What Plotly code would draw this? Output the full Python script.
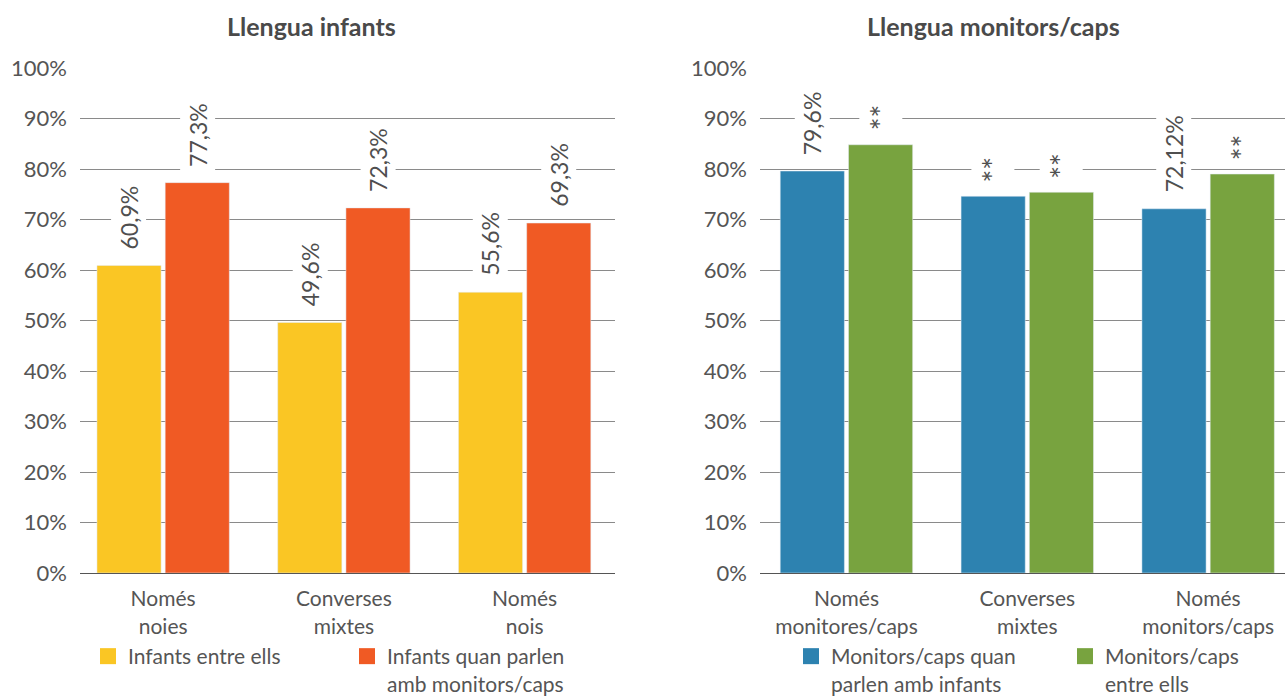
import plotly.graph_objects as go

# ---- data ----
cats_left = ["Només<br>noies", "Converses<br>mixtes", "Només<br>nois"]
infants_entre_ells = [60.9, 49.6, 55.6]
infants_amb_monitors = [77.3, 72.3, 69.3]
labels_entre_ells = ["60,9%", "49,6%", "55,6%"]
labels_amb_monitors = ["77,3%", "72,3%", "69,3%"]

cats_right = ["Només<br>monitores/caps", "Converses<br>mixtes", "Només<br>monitors/caps"]
monitors_amb_infants = [79.6, 74.6, 72.12]
monitors_entre_ells = [84.8, 75.4, 79.0]
labels_monitors_amb_infants = ["79,6%", "**", "72,12%"]
labels_monitors_entre_ells = ["**", "**", "**"]

yticks = [0, 10, 20, 30, 40, 50, 60, 70, 80, 90, 100]
yticklabels = [f"{v}%" for v in yticks]

series_names = ["Infants entre ells", "Infants quan parlen<br>amb monitors/caps",
                "Monitors/caps quan<br>parlen amb infants", "Monitors/caps<br>entre ells"]

# ---- style ----
YELLOW = "#FAC624"
RED = "#F05A24"
BLUE = "#2D82B0"
GREEN = "#78A33F"
TXT = "#555555"
FONT = "Lato"
BARGAP = 0.245
BARGROUPGAP = 0.06

fig = go.Figure()

def add_pair(xref, yref, cats, v1, v2, c1, c2, n1, n2, legend):
    fig.add_trace(go.Bar(x=cats, y=v1, marker_color=c1, name=n1, showlegend=False,
                         xaxis=xref, yaxis=yref, hoverinfo="skip"))
    fig.add_trace(go.Bar(x=cats, y=v2, marker_color=c2, name=n2, showlegend=False,
                         xaxis=xref, yaxis=yref, hoverinfo="skip"))
    # legend-only entries with large square markers
    for n, c in ((n1, c1), (n2, c2)):
        fig.add_trace(go.Scatter(x=[None], y=[None], mode="markers", name=n,
                                 marker=dict(symbol="square", size=20, color=c),
                                 xaxis=xref, yaxis=yref, legend=legend))

add_pair("x", "y", cats_left, infants_entre_ells, infants_amb_monitors, YELLOW, RED,
         series_names[0], series_names[1], "legend")
add_pair("x2", "y2", cats_right, monitors_amb_infants, monitors_entre_ells, BLUE, GREEN,
         series_names[2], series_names[3], "legend2")

# value labels (rotated, white background to cut gridlines)
off = (1 - BARGAP) / 4
def add_labels(xref, yref, values, labels, sign):
    for i, (v, t) in enumerate(zip(values, labels)):
        star = t == "**"
        fig.add_annotation(x=i + sign * off, y=v, xref=xref, yref=yref, text=t,
                           textangle=-90, showarrow=False, yanchor="bottom", xanchor="center",
                           yshift=10 if star else 12, bgcolor="white", borderpad=3,
                           font=dict(family=FONT, size=30 if star else 23, color="#4f4f4f"))

add_labels("x", "y", infants_entre_ells, labels_entre_ells, -1)
add_labels("x", "y", infants_amb_monitors, labels_amb_monitors, 1)
add_labels("x2", "y2", monitors_amb_infants, labels_monitors_amb_infants, -1)
add_labels("x2", "y2", monitors_entre_ells, labels_monitors_entre_ells, 1)

# titles
fig.add_annotation(x=311 / 1285, y=1 - 26 / 696, xref="paper", yref="paper",
                   text="<b>Llengua infants</b>", showarrow=False,
                   xanchor="center", yanchor="middle",
                   font=dict(family=FONT, size=25, color="#4a4a4a"))
fig.add_annotation(x=993 / 1285, y=1 - 26 / 696, xref="paper", yref="paper",
                   text="<b>Llengua monitors/caps</b>", showarrow=False,
                   xanchor="center", yanchor="middle",
                   font=dict(family=FONT, size=25, color="#4a4a4a"))

ydom = [123 / 696, 1 - 68 / 696]
yaxis_common = dict(range=[0, 100], tickmode="array", tickvals=yticks, ticktext=yticklabels,
                    showgrid=True, gridcolor="#8a8a8a", gridwidth=1, zeroline=False,
                    showline=False, ticks="", ticklabelstandoff=12,
                    tickfont=dict(family=FONT, size=22, color=TXT),
                    domain=ydom, fixedrange=True)
xaxis_common = dict(type="category", showgrid=False, showline=True, linecolor="#555555",
                    linewidth=1, ticks="", ticklabelstandoff=7,
                    tickfont=dict(family=FONT, size=21, color=TXT),
                    fixedrange=True)

fig.update_layout(
    width=1285, height=696,
    margin=dict(l=0, r=0, t=0, b=0, autoexpand=False),
    paper_bgcolor="white", plot_bgcolor="white",
    barmode="group", bargap=BARGAP, bargroupgap=BARGROUPGAP,
    font=dict(family=FONT, color=TXT),
    xaxis=dict(xaxis_common, domain=[80 / 1285, 615 / 1285], range=[-0.46, 2.5], anchor="y"),
    yaxis=dict(yaxis_common, anchor="x"),
    xaxis2=dict(xaxis_common, domain=[760 / 1285, 1.0], range=[-0.478, 2.425], anchor="y2"),
    yaxis2=dict(yaxis_common, anchor="x2"),
    legend=dict(orientation="h", x=88 / 1285, y=1 - 636 / 696, xanchor="left", yanchor="top",
                entrywidth=214, entrywidthmode="pixels", valign="top", tracegroupgap=0,
                font=dict(family=FONT, size=21, color=TXT), itemsizing="trace",
                bgcolor="rgba(0,0,0,0)"),
    legend2=dict(orientation="h", x=791 / 1285, y=1 - 636 / 696, xanchor="left", yanchor="top",
                 entrywidth=229, entrywidthmode="pixels", valign="top", tracegroupgap=0,
                 font=dict(family=FONT, size=21, color=TXT), itemsizing="trace",
                 bgcolor="rgba(0,0,0,0)"),
)

fig.write_html("out.html", config={"displayModeBar": False},
               post_script="document.body.style.margin='0';")
